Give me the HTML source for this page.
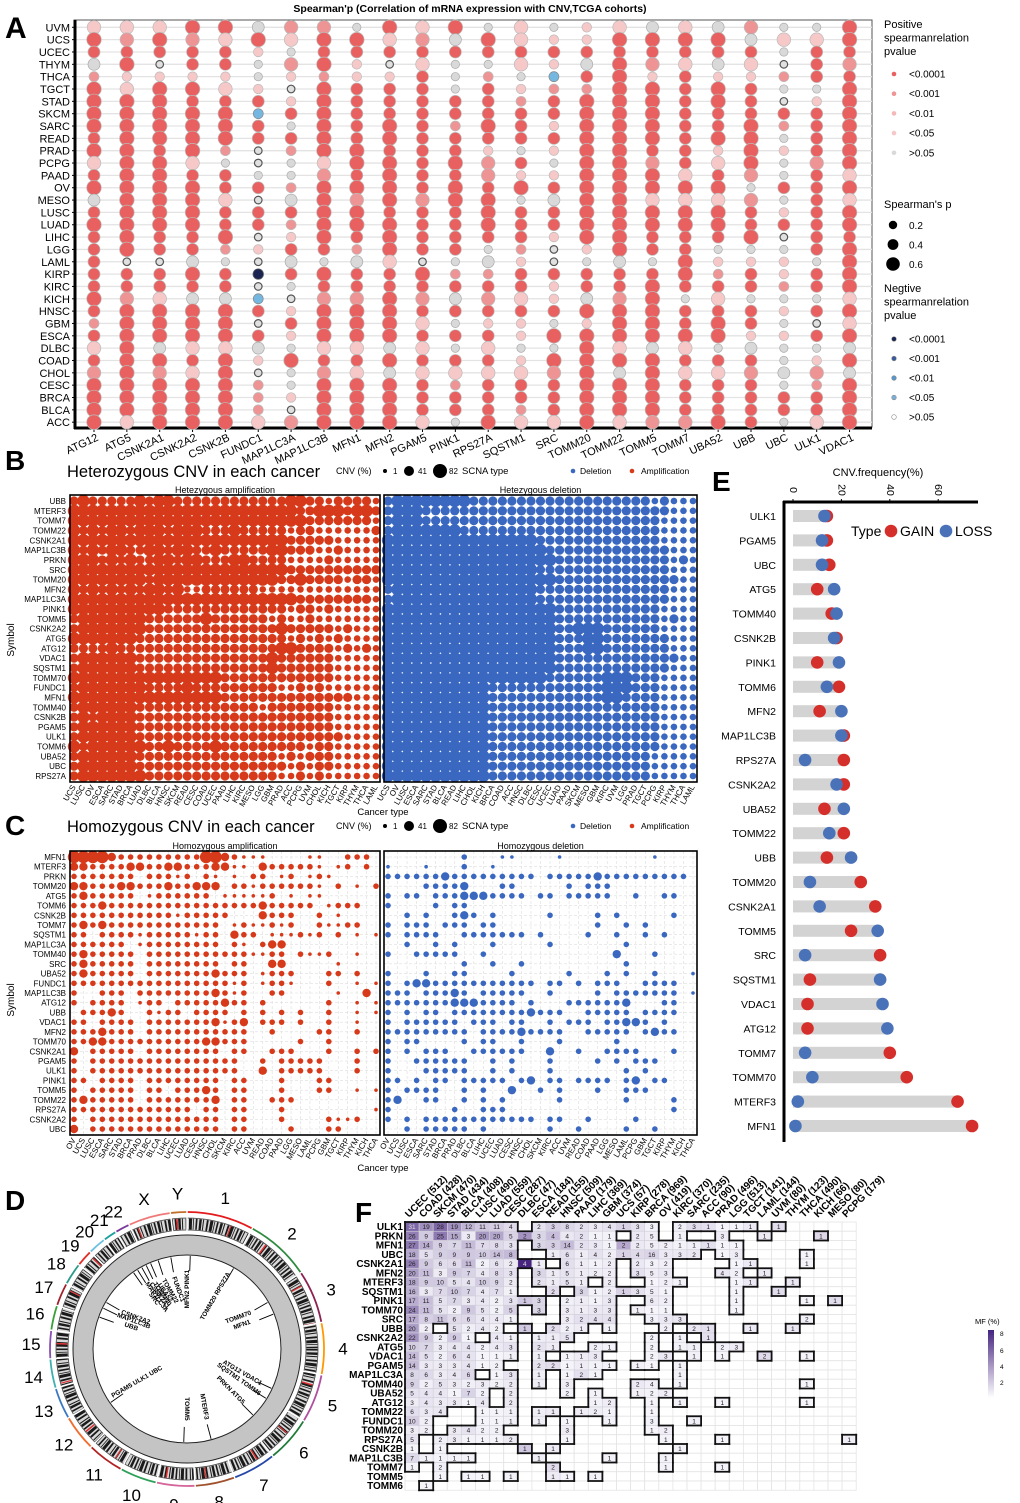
<!DOCTYPE html>
<html><head><meta charset="utf-8">
<style>
html,body{margin:0;padding:0;background:#fff;}
svg{display:block;font-family:"Liberation Sans",Arial,sans-serif;}
</style></head>
<body>
<svg id="fig" width="1020" height="1503" viewBox="0 0 1020 1503" xmlns="http://www.w3.org/2000/svg">
<g id="pA"></g>
<g id="pB"></g>
<g id="pC"></g>
<g id="pD"></g>
<g id="pE"></g>
<g id="pF"></g>
</svg>
<script>
// ---------- Panel A data ----------
const aCancers = ["UVM","UCS","UCEC","THYM","THCA","TGCT","STAD","SKCM","SARC","READ","PRAD","PCPG","PAAD","OV","MESO","LUSC","LUAD","LIHC","LGG","LAML","KIRP","KIRC","KICH","HNSC","GBM","ESCA","DLBC","COAD","CHOL","CESC","BRCA","BLCA","ACC"];
const aGenes = ["ATG12","ATG5","CSNK2A1","CSNK2A2","CSNK2B","FUNDC1","MAP1LC3A","MAP1LC3B","MFN1","MFN2","PGAM5","PINK1","RPS27A","SQSTM1","SRC","TOMM20","TOMM22","TOMM5","TOMM7","UBA52","UBB","UBC","ULK1","VDAC1"];
const aCodes = [
"PAaGsAAAAaAPaAGaAaaaaaAasaPaSAAAA",
"PSaApPAAAAAAAAAAAAAoaaSAAAAAAAAAP",
"PAaopAAAAAaAAAAAAaaoaaPAAAGASAAAA",
"ASaapAaAAAAPaAAAAaaGAaGAAAPaPAAAA",
"APaapPaAAAsgaaPaaAsgaaGAAAPAAAAAA",
"GApggpaBaaoogaoaaopoNoBaoaGposssP",
"SPgSpopagasggsGaspaGagopapgAggpoS",
"SAaAsAAAAAAPSAAAAAagAaSAAAPaSAAAA",
"gAappaaaaaAAaASAAasGaaSAAAPaPAAAA",
"APaopaaaAAaAAAAaAAAPaaAAAAGAGAAAA",
"PSaPaaaaaaaaaaSaaaaoAaSaPaPaPaaaP",
"AGagggaasaaAaAAaaaagsaGagagaPsaag",
"gAagsaaaAapSSaAAAagGsaSapaPaPaaaA",
"PPaPgpsaaagapAgaaaspaaPappgpPaasP",
"gpapBsaapapgpaGaapooappagAgASaaaP",
"ppaGasAAAAAAAAAAAApgaaGApAAAAAAAA",
"PAaAAAAAAAAAAAAAAAAGaaSAAAPAGAAAP",
"GAaSpAAAAAaSAAPAAaagaAAAAAGAAAAAS",
"PAaPaaaaaaaaPAPAAaaAAagaaAPaPaaaS",
"GAaGpAAaaApPaAPAAagpsaPaAAgaPaaaA",
"SGaPpaaaAAAASgSaaAgpaagaapGaSaaaa",
"gPgosgoasgpggagpaogppsgpgpggGgaag",
"gPaaagpaaaaSaaaaaaagaagaoagpSsaaP",
"AAaSaAAAAAAAPAPAAaAAAAPAPAGAGAAAA"];

// ---------- Panel B/C data ----------
const bGenes = ["UBB","MTERF3","TOMM7","TOMM22","CSNK2A1","MAP1LC3B","PRKN","SRC","TOMM20","MFN2","MAP1LC3A","PINK1","TOMM5","CSNK2A2","ATG5","ATG12","VDAC1","SQSTM1","TOMM70","FUNDC1","MFN1","TOMM40","CSNK2B","PGAM5","ULK1","TOMM6","UBA52","UBC","RPS27A"];
const bCancersL = ["UCS","LUSC","OV","ESCA","SARC","STAD","BRCA","LUAD","DLBC","BLCA","HNSC","SKCM","READ","CESC","COAD","UCEC","PAAD","LIHC","KIRC","MESO","LGG","GBM","PRAD","ACC","PCPG","UVM","CHOL","KICH","TGCT","KIRP","THYM","THCA","LAML"];
const bCancersR = ["UCS","OV","LUSC","ESCA","SARC","STAD","BLCA","READ","LIHC","CHOL","KICH","BRCA","COAD","ACC","HNSC","DLBC","CESC","UCEC","LUAD","PAAD","SKCM","MESO","GBM","KIRC","UVM","LGG","PRAD","TGCT","PCPG","KIRP","THYM","THCA","LAML"];
const bAmp = ["343333343443333333333334433233332","444444444444444444444444334443443","444444444444444444444444433333332","434344344434443334333332332222223","444444444444444444444443333322222","434344334434433433333443332232222","444343433443443334433332222322222","444444444444444444444443333333333","444444443444444444444433433332332","434343434434223333332222222222222","444444444444444444444444333333332","444444444433333333333332332322222","344444443333334333333232232222222","344444443333333333333343333323222","444444433333333333333332323232222","333343333333333333333344333323232","344444433333333333333433333322222","344444433333333333333433333322222","444444444444444433333333333322222","344444443333433333333322323222222","444444444444444433333333333333222","344444433333333333332333333322222","343444433333333333333333333322222","344444433333333333333333333322222","344444433333333333333333333332222","434444443343333433333333323322222","344444433333333333333323233322222","344444433333333333333332323322222","344444443333333333333322323222222"];
const bDel = ["344444444333333333333333333323222","344433333333333333333333333333222","344433333333333333333333333332222","344444443333333333333333333332222","444444444444444433333333333332222","444444444444444443333333333333222","444444444444444444333333333333232","444444444444444433333333333333222","444444444444444444333333333333322","344444444444444433333333333333222","344444444444444433333333333333222","444444444444444444333333333332222","444444444444444444333333333332322","444444444444444444334443333332222","444444444444444444333443333333222","444444444444444444333443333333222","444444444444444444333333333333322","444444444444444444333333333333222","444444444444444443333334443332222","444444444443333333333334443332222","444444444443333333333334433332222","444444444443333333333333333332222","444444444443333333333333333332222","444444444443333333333333333332222","444444444443333333333333333332222","444444444443333333333333333332222","444444444443333333333333333322222","444444444443333333333333333322222","444444444443333333333333333322222"];
const cGenes = ["MFN1","MTERF3","PRKN","TOMM20","ATG5","TOMM6","CSNK2B","TOMM7","SQSTM1","MAP1LC3A","TOMM40","SRC","UBA52","FUNDC1","MAP1LC3B","ATG12","UBB","VDAC1","MFN2","TOMM70","CSNK2A1","PGAM5","ULK1","PINK1","TOMM5","TOMM22","RPS27A","CSNK2A2","UBC"];
const cCancers = ["OV","UCS","LUSC","ESCA","SARC","STAD","BRCA","PRAD","DLBC","BLCA","LIHC","UCEC","LUAD","CESC","HNSC","CHOL","SKCM","KIRC","ACC","UVM","READ","COAD","PAAD","LGG","MESO","LAML","PCPG","GBM","TGCT","KIRP","THYM","KICH","THCA"];
const cAmp = ["444432222222224432111000011002220","332222332233222331103222221012020","222222202221202101022012012100000","332223322232233302212222221020102","232222201222222011111201011000000","222322222222222222223222220122200","222222222221222220003222002010000","232322222222222201211212002112200","220222212222212203220111212020101","222222012222222202102330000000000","232222202222222222211220211200100","232222202222222202200330000010000","232222202222222322201222000220200","222222222222222221201221000200101","200222022222222321200220000010030","202222012202222232202000000200101","022232002122022220202020200200101","220222202222222312302220200200100","222322202222222222200200002200200","223322222222223322200000200200000","302222202222222202200222000200202","202222222222222222002022222000200","202222222222222222003022222000200","220222202222222202200020002200000","202222202202223202200020002200101","232222202222222302200222000000000","222222222222202202200020000000001","202222222222222202200020000211200","302222222222222202200002000220000"];
const cDel = ["000000002000110000100000000010000","100010002001000000000000000000000","222222322222222202222232222222220","000022223000220000020222000000000","202202223332222022022222002002200","200002022000000000000000000000000","002020023202000002000020200000200","202220222022000000000020020200000","202222002222222020000200200202000","002002020002000002000000020000000","200222220020000000000000300020000","000000002002002000000000020000000","200020022000020000020002020020001","202332222222222202202022200222200","222022232022222002000020222222201","222222233322220200022222230002200","202022022222222322200222220222200","202222220222022002022202233202000","222222222022223222200222220232200","202200002022002000200000200000000","202022200222222003002002222000200","200222222002020002000020202220000","200022222002020002000000020200000","220202202222202302202222023022000","202222002020030020200020022200000","230022002020200000200000020000200","200000020022200000000000000000200","202022222222222202200200002000000","002022222020000002002000020020000"];

// ---------- Panel E data ----------
const eGenes = ["ULK1","PGAM5","UBC","ATG5","TOMM40","CSNK2B","PINK1","TOMM6","MFN2","MAP1LC3B","RPS27A","CSNK2A2","UBA52","TOMM22","UBB","TOMM20","CSNK2A1","TOMM5","SRC","SQSTM1","VDAC1","ATG12","TOMM7","TOMM70","MTERF3","MFN1"];
const eGain = [14,14,15,10,16,18,10,19,11,21,21,21,13,21,14,28,34,24,36,7,6,6,40,47,68,74];
const eLoss = [13,12,12,17,18,17,19,14,20,20,5,18,21,15,24,7,11,35,5,36,37,39,5,8,2,1];
const eTicks = [0,20,40,60];

// ---------- Panel F data ----------
const fCancers = ["UCEC","COAD","SKCM","STAD","BLCA","LUSC","LUAD","CESC","DLBC","ESCA","READ","HNSC","PAAD","LIHC","GBM","UCS","KIRP","BRCA","OV","KIRC","SARC","ACC","PRAD","LGG","TGCT","LAML","UVM","THYM","THCA","KICH","MESO","PCPG"];
const fSampleN = [512,428,470,434,408,490,559,287,47,184,155,509,179,369,374,57,278,969,419,370,235,90,496,513,141,144,80,123,490,66,80,179];
const fGenes = ["ULK1","PRKN","MFN1","UBC","CSNK2A1","MFN2","MTERF3","SQSTM1","PINK1","TOMM70","SRC","UBB","CSNK2A2","ATG5","VDAC1","PGAM5","MAP1LC3A","TOMM40","UBA52","ATG12","TOMM22","FUNDC1","TOMM20","RPS27A","CSNK2B","MAP1LC3B","TOMM7","TOMM5","TOMM6"];
const fValues = [
[31,19,28,19,12,11,11,4,0,2,3,8,2,3,4,1,3,3,0,2,3,1,1,1,1,0,1,0,0,0,0,0],
[26,9,25,15,3,20,20,5,2,3,4,4,2,1,1,0,2,5,0,1,0,0,3,0,0,1,0,0,0,1,0,0],
[27,14,9,7,11,7,8,3,0,3,3,14,2,3,1,2,2,5,2,1,1,1,1,1,0,0,0,0,0,0,0,0],
[18,5,9,9,9,10,14,8,0,0,1,6,1,4,2,1,4,16,3,3,2,0,1,3,0,0,0,0,1,0,0,0],
[26,9,6,6,11,2,6,2,4,1,0,6,1,1,2,0,2,3,2,0,0,0,0,1,1,0,0,0,1,0,0,0],
[20,11,3,9,7,4,8,3,0,3,1,5,1,2,2,0,3,5,3,0,0,0,4,2,0,1,0,0,0,0,0,0],
[18,9,10,5,4,10,9,2,0,2,1,5,1,0,2,0,0,1,2,1,0,0,0,1,1,0,0,1,0,0,0,0],
[16,3,7,10,7,4,7,1,0,0,2,0,3,1,2,1,3,5,1,0,0,0,0,1,0,0,1,0,0,0,0,0],
[17,11,5,7,3,4,2,3,1,3,0,2,1,1,3,0,0,6,2,0,0,0,0,1,0,0,0,0,1,0,1,0],
[24,11,5,2,9,5,2,5,0,3,0,3,1,3,3,0,1,1,1,0,0,0,0,1,0,0,0,0,0,0,0,0],
[17,8,11,6,6,4,4,1,0,0,0,3,2,4,4,0,0,3,3,3,0,0,0,0,0,0,0,0,2,0,0,0],
[20,2,0,5,2,4,2,0,1,0,2,2,1,0,1,0,0,0,2,0,2,1,0,0,1,0,0,1,0,0,0,0],
[22,9,2,9,1,0,4,1,0,1,1,5,0,0,0,0,0,2,0,1,0,1,0,0,0,0,0,0,0,0,0,0],
[10,7,3,4,4,2,4,3,0,2,1,0,0,2,1,0,0,2,0,1,1,0,2,3,0,0,0,0,0,0,0,0],
[14,5,2,6,4,1,1,1,0,1,0,1,1,3,0,0,0,2,3,0,1,0,1,0,0,2,0,0,1,0,0,0],
[14,3,3,3,4,1,2,0,0,2,2,1,1,1,1,0,1,1,0,1,0,0,0,0,0,0,0,0,0,0,0,0],
[8,6,3,4,6,0,1,3,0,1,0,1,2,1,0,0,0,0,0,1,0,0,0,0,0,0,0,0,0,0,0,0],
[9,2,5,3,2,3,2,2,0,1,0,3,0,0,0,0,2,4,0,1,0,0,0,0,0,0,0,0,1,0,0,0],
[5,4,4,1,7,2,0,2,0,0,0,2,0,1,0,0,1,2,2,0,0,0,0,0,0,0,0,0,0,0,0,0],
[3,4,3,3,1,4,0,2,0,0,0,0,0,1,2,0,0,1,0,1,0,0,1,0,0,0,0,0,1,0,0,0],
[6,3,4,0,0,1,1,1,0,1,1,0,1,2,1,0,0,1,0,0,0,0,0,0,0,0,0,0,0,0,0,0],
[10,2,0,0,0,1,1,1,0,1,0,1,0,0,1,0,0,3,0,0,1,0,0,0,0,0,0,0,0,0,0,0],
[3,2,0,3,4,2,2,0,0,0,0,3,0,0,0,0,0,1,2,0,0,0,0,0,0,0,0,0,0,0,0,0],
[5,0,2,3,1,1,1,2,0,0,0,1,0,0,0,0,0,0,1,0,0,0,1,0,0,0,0,0,0,0,0,1],
[1,0,1,0,0,0,0,0,1,0,1,0,0,0,0,0,0,0,0,1,0,0,0,0,0,0,0,0,0,0,0,0],
[7,1,1,1,1,0,0,0,0,1,0,0,0,0,1,0,0,0,1,0,0,0,0,0,0,0,0,0,0,0,0,0],
[1,0,2,0,0,0,0,0,0,0,2,0,0,0,0,0,0,0,1,0,0,0,1,0,0,0,0,0,0,0,0,0],
[0,0,1,0,1,1,0,1,0,0,1,1,0,1,0,0,0,0,0,0,0,0,0,0,0,0,0,0,0,0,0,0],
[0,1,0,0,0,0,0,0,0,0,0,0,0,0,0,0,0,0,0,0,0,0,0,0,0,0,0,0,0,0,0,0]];

// ---------- Panel D data ----------
const dChroms = ["1","2","3","4","5","6","7","8","9","10","11","12","13","14","15","16","17","18","19","20","21","22","X","Y"];
const dSizes = [249,243,198,191,181,171,159,146,141,136,135,133,115,107,102,90,83,80,59,64,47,51,156,57];
const dColors = ["#e41a1c","#2e8b3e","#8b2252","#ff9900","#b04fa0","#1f7a3a","#2748a8","#a0522d","#d4649a","#2fa05a","#b22222","#f06d2e","#3a78c2","#3fb0b0","#8a4fb0","#3aa03a","#a0202a","#2a9a8a","#e0302a","#6ec0e0","#20a0a0","#7a3a9a","#f07a7a","#c0702a"];

const NS="http://www.w3.org/2000/svg";
function el(tag, attrs, parent){const e=document.createElementNS(NS,tag);for(const k in attrs)e.setAttribute(k,attrs[k]);parent.appendChild(e);return e;}
function txt(parent, x, y, s, attrs){const t=el("text",Object.assign({x:x,y:y},attrs||{}),parent);t.textContent=s;return t;}

// ================= Panel A =================
(function(){
  const g=document.getElementById("pA");
  const x0=94, dx=32.85, y0=27.3, dy=12.34;
  const xA=c=>x0+c*dx, yA=r=>y0+r*dy;
  let t=txt(g,5,38,"A",{"font-size":30,"font-weight":"bold"});
  
  
  t=txt(g,470,12,"Spearman'p (Correlation of mRNA expression with CNV,TCGA cohorts)",{"font-size":10.5,"font-weight":"bold","text-anchor":"middle"});
  
  
  el("rect",{x:74,y:20,width:798,height:407,fill:"none",stroke:"#555","stroke-width":1},g);
  aCancers.forEach((c,r)=>{
    el("line",{x1:76,x2:872,y1:yA(r),y2:yA(r),stroke:"#e3e3e3","stroke-width":1.3},g);
    const l=txt(g,70,yA(r)+4,c,{"font-size":11,"text-anchor":"end"});
    
    
    el("line",{x1:72,x2:75,y1:yA(r),y2:yA(r),stroke:"#000"},g);
  });
  el("line",{x1:75,x2:75,y1:20,y2:429,stroke:"#000","stroke-width":3},g);
  el("line",{x1:74,x2:872,y1:428,y2:428,stroke:"#000","stroke-width":3},g);
  const sty={A:["#e8605f","#bbb",7.3],a:["#e8605f","#bbb",6.0],S:["#ee9494","#bbb",6.8],s:["#ee9494","#bbb",5],
    P:["#f7c8c8","#bbb",6.8],p:["#f7c8c8","#bbb",4.8],G:["#d9d9d9","#aaa",6],g:["#d9d9d9","#aaa",4.2],
    o:["#e0e0e0","#555",3.8],B:["#74b7e0","#888",5],N:["#1a2552","#666",5.3]};
  aGenes.forEach((gn,c)=>{
    const codes=aCodes[c];
    const lab=txt(g,0,0,gn,{"font-size":11,"text-anchor":"end",transform:"translate("+(xA(c)+5)+",440) rotate(-25)"});
    
    
    el("line",{x1:xA(c),x2:xA(c),y1:429,y2:432,stroke:"#000"},g);
    aCancers.forEach((cn,r)=>{
      const s=sty[codes.charAt(r)]||sty.g;
      const d=el("circle",{cx:xA(c),cy:yA(r),r:s[2],fill:s[0],stroke:s[1],"stroke-width":s[0]==="#e0e0e0"?1.2:0.7},g);
      
      
    });
  });
  const lg=el("g",{},g);
  
  
  ["Positive","spearmanrelation","pvalue"].forEach((s,i)=>txt(lg,884,28+i*13.5,s,{"font-size":11}));
  const pos=[["#e8605f","<0.0001"],["#ee9494","<0.001"],["#f5b8b8","<0.01"],["#f7c8c8","<0.05"],["#d9d9d9",">0.05"]];
  pos.forEach((p,i)=>{const yy=74+i*19.7;el("circle",{cx:894,cy:yy,r:2.3,fill:p[0]},lg);txt(lg,909,yy+3.5,p[1],{"font-size":10});});
  txt(lg,884,208,"Spearman's p",{"font-size":11});
  [[0.2,4.2],[0.4,5.4],[0.6,6.8]].forEach((p,i)=>{const yy=225+i*19.5;el("circle",{cx:893,cy:yy,r:p[1],fill:"#000"},lg);txt(lg,909,yy+4,String(p[0]),{"font-size":10});});
  ["Negtive","spearmanrelation","pvalue"].forEach((s,i)=>txt(lg,884,292+i*13.5,s,{"font-size":11}));
  const neg=[["#1a2552","<0.0001"],["#3a5a9a","<0.001"],["#5a96c8","<0.01"],["#7ab0d8","<0.05"],["#ffffff",">0.05"]];
  neg.forEach((p,i)=>{const yy=339+i*19.5;el("circle",{cx:894,cy:yy,r:2.3,fill:p[0],stroke:"#888","stroke-width":0.6},lg);txt(lg,909,yy+3.5,p[1],{"font-size":10});});
})();

// ================= Panels B & C =================
function cnvPanel(gid, letter, letterY, title, titleY, boxY, boxH, rows, genes, cancersL, cancersR, ampData, delData, stripL, stripR, radii, labY, xTitleY){
  const g=document.getElementById(gid);
  let t=txt(g,5,letterY,letter,{"font-size":28,"font-weight":"bold"});
  
  
  t=txt(g,67,titleY,title,{"font-size":16.5});
  
  
  const lg=el("g",{},g);
  
  
  txt(lg,336,titleY-3,"CNV (%)",{"font-size":9});
  el("circle",{cx:385,cy:titleY-6,r:2,fill:"#000"},lg);txt(lg,393,titleY-3,"1",{"font-size":8});
  el("circle",{cx:409,cy:titleY-6,r:5,fill:"#000"},lg);txt(lg,418,titleY-3,"41",{"font-size":8});
  el("circle",{cx:440,cy:titleY-6,r:7,fill:"#000"},lg);txt(lg,449,titleY-3,"82",{"font-size":8});
  txt(lg,462,titleY-3,"SCNA type",{"font-size":9.5});
  el("circle",{cx:573,cy:titleY-6,r:2.3,fill:"#3a68c0"},lg);txt(lg,580,titleY-3,"Deletion",{"font-size":8.5});
  el("circle",{cx:632,cy:titleY-6,r:2.3,fill:"#d63a1a"},lg);txt(lg,641,titleY-3,"Amplification",{"font-size":8.5});
  const panels=[[70,380,ampData,cancersL,stripL,"#d63a1a","amplification"],[384,697,delData,cancersR,stripR,"#3a68c0","deletion"]];
  const top=boxY+6, step=(boxH-12)/(rows-1);
  const yR=r=>top+r*step;
  panels.forEach(p=>{
    const x1=p[0],x2=p[1];const dx=(x2-x1-8)/32;const xC=c=>x1+4+c*dx;
    const pg=el("g",{},g);
    
    
    txt(pg,(x1+x2)/2,boxY-2,p[4],{"font-size":9,"text-anchor":"middle"});
    for(let c=0;c<33;c++)el("line",{x1:xC(c),x2:xC(c),y1:boxY,y2:boxY+boxH,stroke:"#ddd","stroke-dasharray":"3 2","stroke-width":0.6},pg);
    for(let r=0;r<rows;r++)el("line",{x1:x1,x2:x2,y1:yR(r),y2:yR(r),stroke:"#ddd","stroke-dasharray":"3 2","stroke-width":0.6},pg);
    for(let r=0;r<rows;r++){const s=p[2][r]||"";for(let c=0;c<33;c++){const v=+s.charAt(c)||0;if(!v)continue;
      const d=el("circle",{cx:xC(c),cy:yR(r),r:radii[v],fill:p[5]},pg);
      
      }}
    el("rect",{x:x1,y:boxY,width:x2-x1,height:boxH,fill:"none",stroke:"#000","stroke-width":1.6},pg);
    p[3].forEach((cn,c)=>{txt(pg,0,0,cn,{"font-size":8,"text-anchor":"end",transform:"translate("+(xC(c)+2)+","+(boxY+boxH+5)+") rotate(-60)"});});
  });
  genes.forEach((gn,r)=>{const l=txt(g,66,yR(r)+3,gn,{"font-size":8,"text-anchor":"end"});
    
    });
  t=txt(g,0,0,"Symbol",{"font-size":10,"text-anchor":"middle",transform:"translate(14,"+labY+") rotate(-90)"});
  
  
  t=txt(g,383,xTitleY,"Cancer type",{"font-size":9.5,"text-anchor":"middle"});
  
  
}
cnvPanel("pB","B",470,"Heterozygous CNV in each cancer",477,495,287,29,bGenes,bCancersL,bCancersR,bAmp,bDel,"Hetezygous amplification","Hetezygous deletion",[0,2.2,3.3,4.6,6.2],640,815);
cnvPanel("pC","C",835,"Homozygous CNV in each cancer",832,851,284,29,cGenes,cCancers,cCancers,cAmp,cDel,"Homozygous amplification","Homozygous deletion",[0,1.8,2.8,4.2,6.2],1000,1171);

// ================= Panel D (circos) =================
(function(){
  const g=document.getElementById("pD");
  const cx=187, cy=1349;
  let t=txt(g,5,1210,"D",{"font-size":28,"font-weight":"bold"});
  
  
  const total=dSizes.reduce((a,b)=>a+b,0);
  const gap=0.6; const avail=360-gap*dSizes.length;
  const pt=(ang,r)=>[cx+r*Math.sin(ang*Math.PI/180), cy-r*Math.cos(ang*Math.PI/180)];
  function arc(a1,a2,r){const p1=pt(a1,r),p2=pt(a2,r);return "M"+p1[0]+","+p1[1]+" A"+r+","+r+" 0 "+((a2-a1)>180?1:0)+" 1 "+p2[0]+","+p2[1];}
  el("circle",{cx:cx,cy:cy,r:125,fill:"none",stroke:"#d8d8d8","stroke-width":12},g);
  el("circle",{cx:cx,cy:cy,r:125,fill:"none",stroke:"#1a1a1a","stroke-width":11,"stroke-dasharray":"1.6 1.8 2.4 1.2 1 2.6 1.8 1.6 3 1 0.8 1.8"},g);
  el("circle",{cx:cx,cy:cy,r:125,fill:"none",stroke:"#e03030","stroke-width":11,"stroke-dasharray":"1.2 37 1.5 51","stroke-dashoffset":"4"},g);
  el("circle",{cx:cx,cy:cy,r:131,fill:"none",stroke:"#444","stroke-width":0.8},g);
  el("circle",{cx:cx,cy:cy,r:119,fill:"none",stroke:"#444","stroke-width":0.8},g);
  el("circle",{cx:cx,cy:cy,r:104,fill:"none",stroke:"#c4c4c4","stroke-width":19},g);
  el("circle",{cx:cx,cy:cy,r:114,fill:"none",stroke:"#222","stroke-width":1},g);
  el("circle",{cx:cx,cy:cy,r:94,fill:"none",stroke:"#222","stroke-width":1},g);
  let a=0.3;
  dSizes.forEach((s,i)=>{
    const span=avail*s/total; const a1=a, a2=a+span;
    const p=el("path",{d:arc(a1,a2,137),fill:"none",stroke:dColors[i],"stroke-width":1.8},g);
    
    
    const pB=pt(a1-gap/2,134),pB2=pt(a1-gap/2,116);
    el("line",{x1:pB[0],y1:pB[1],x2:pB2[0],y2:pB2[1],stroke:"#fff","stroke-width":1.5},g);
    const m=(a1+a2)/2; const lp=pt(m,156);
    const lab=txt(g,lp[0],lp[1]+6,dChroms[i],{"font-size":17,"text-anchor":"middle"});
    
    
    a=a2+gap;
  });
  const genes=[["MFN2 PINK1",2,-90],["TOMM20 RPS27A",30,-60],["TOMM70",60,-20],["MFN1",68,-20],["ATG12 VDAC1",115,30],["SQSTM1 TOMM6",122,35],["PRKN ATG5",135,45],["MTERF3",165,80],["TOMM5",182,90],["PGAM5 ULK1 UBC",235,-30],["UBB",290,20],["MAP1LC3B",296,20],["CSNK2A2",300,20],["SRC",325,55],["MAP1LC3A",328,55],["CSNK2A1",331,55],["TOMM40",334,55],["UBA52",337,55],["TOMM22",342,60],["FUNDC1",350,70]];
  genes.forEach(gd=>{
    const p1=pt(gd[1],93),p2=pt(gd[1],78);
    el("line",{x1:p1[0],y1:p1[1],x2:p2[0],y2:p2[1],stroke:"#000","stroke-width":0.9},g);
    const lp=pt(gd[1],60);
    const tt=txt(g,0,0,gd[0],{"font-size":6.5,"font-weight":"bold","text-anchor":"middle",transform:"translate("+lp[0]+","+lp[1]+") rotate("+gd[2]+")"});
    
    
  });
})();

// ================= Panel E =================
(function(){
  const g=document.getElementById("pE");
  const x0=793, k=2.42, y0=516, dy=24.4;
  const xE=v=>x0+v*k, yE=i=>y0+i*dy;
  let t=txt(g,712,491,"E",{"font-size":28,"font-weight":"bold"});
  
  
  t=txt(g,878,476,"CNV.frequency(%)",{"font-size":11,"text-anchor":"middle"});
  
  
  eTicks.forEach(v=>{const tk=txt(g,0,0,String(v),{"font-size":10.5,"text-anchor":"middle",transform:"translate("+(xE(v)-3)+",490) rotate(90)"});
    
    
    el("line",{x1:xE(v),x2:xE(v),y1:499,y2:502,stroke:"#000"},g);});
  el("line",{x1:783,x2:978,y1:502,y2:502,stroke:"#000","stroke-width":3},g);
  el("line",{x1:784,x2:784,y1:501,y2:1142,stroke:"#000","stroke-width":3},g);
  eGenes.forEach((gn,i)=>{
    const y=yE(i), mx=Math.max(eGain[i],eLoss[i]);
    const l=txt(g,776,y+4,gn,{"font-size":10.5,"text-anchor":"end"});
    
    
    const b=el("rect",{x:x0,y:y-6,width:xE(mx)-x0,height:12,fill:"#d3d3d3"},g);
    
    
    const c1=el("circle",{cx:xE(eGain[i]),cy:y,r:6.3,fill:"#d42f2a"},g);
    
    
    const c2=el("circle",{cx:xE(eLoss[i]),cy:y,r:6.3,fill:"#4a72b8"},g);
    
    
  });
  const lg=el("g",{},g);
  
  
  txt(lg,851,536,"Type",{"font-size":14});
  el("circle",{cx:891,cy:531,r:6.3,fill:"#d42f2a"},lg);txt(lg,900,536,"GAIN",{"font-size":14});
  el("circle",{cx:946,cy:531,r:6.3,fill:"#4a72b8"},lg);txt(lg,955,536,"LOSS",{"font-size":14});
})();

// ================= Panel F =================
(function(){
  const g=document.getElementById("pF");
  const x0=405, cw=14.1, y0=1222, ch=9.25;
  const xF=c=>x0+c*cw, yF=r=>y0+r*ch;
  let t=txt(g,355,1222,"F",{"font-size":28,"font-weight":"bold"});
  
  
  function col(mf){const f=Math.min(mf,8.5)/8.5;const a=[248,247,252],b=[70,36,128];
    return "rgb("+a.map((q,i)=>Math.round(q+(b[i]-q)*Math.pow(f,1.1))).join(",")+")";}
  fCancers.forEach((cn,c)=>{
    const l=txt(g,0,0,cn+" ("+fSampleN[c]+")",{"font-size":10,"font-weight":"bold",transform:"translate("+(xF(c)+4)+",1218) rotate(-45)"});
    
    
  });
  fGenes.forEach((gn,r)=>{
    const l=txt(g,403,yF(r)+8,gn,{"font-size":10,"font-weight":"bold","text-anchor":"end"});
    
    
    for(let c=0;c<32;c++){
      el("rect",{x:xF(c),y:yF(r),width:cw,height:ch,fill:"#fff",stroke:"#e4e4e4","stroke-width":0.8},g);
    }
  });
  const nz=(r,c)=>r>=0&&r<fGenes.length&&c>=0&&c<32&&fValues[r][c]>0;
  fGenes.forEach((gn,r)=>{
    const row=fValues[r];
    for(let c=0;c<32;c++){const v=row[c];if(!v)continue;
      const mf=v/fSampleN[c]*100;
      const cell=el("rect",{x:xF(c),y:yF(r),width:cw,height:ch,fill:col(mf),stroke:"#d0d0d8","stroke-width":0.6},g);
      
      
      txt(g,xF(c)+cw/2,yF(r)+7,String(v),{"font-size":6.5,"text-anchor":"middle",fill:mf>6?"#ddd":"#222"});
    }
  });
  // thick outline around non-zero regions
  fGenes.forEach((gn,r)=>{for(let c=0;c<32;c++){if(!nz(r,c))continue;
    const x=xF(c),y=yF(r),st={stroke:"#111","stroke-width":1.8,"stroke-linecap":"square"};
    if(!nz(r-1,c))el("line",Object.assign({x1:x,x2:x+cw,y1:y,y2:y},st),g);
    if(!nz(r+1,c))el("line",Object.assign({x1:x,x2:x+cw,y1:y+ch,y2:y+ch},st),g);
    if(!nz(r,c-1))el("line",Object.assign({x1:x,x2:x,y1:y,y2:y+ch},st),g);
    if(!nz(r,c+1))el("line",Object.assign({x1:x+cw,x2:x+cw,y1:y,y2:y+ch},st),g);
  }});
  const defs=el("defs",{},g);
  const lgd=el("linearGradient",{id:"mfgrad",x1:0,y1:0,x2:0,y2:1},defs);
  el("stop",{offset:"0","stop-color":"rgb(70,36,128)"},lgd);
  el("stop",{offset:"1","stop-color":"#ffffff"},lgd);
  const lg=el("g",{},g);
  
  
  txt(lg,975,1324,"MF (%)",{"font-size":7.5});
  el("rect",{x:988,y:1330,width:6,height:68,fill:"url(#mfgrad)"},lg);
  [["8",1333],["6",1350],["4",1366],["2",1382]].forEach(p=>txt(lg,1000,p[1]+3,p[0],{"font-size":6.5}));
})();
</script>
</body></html>
